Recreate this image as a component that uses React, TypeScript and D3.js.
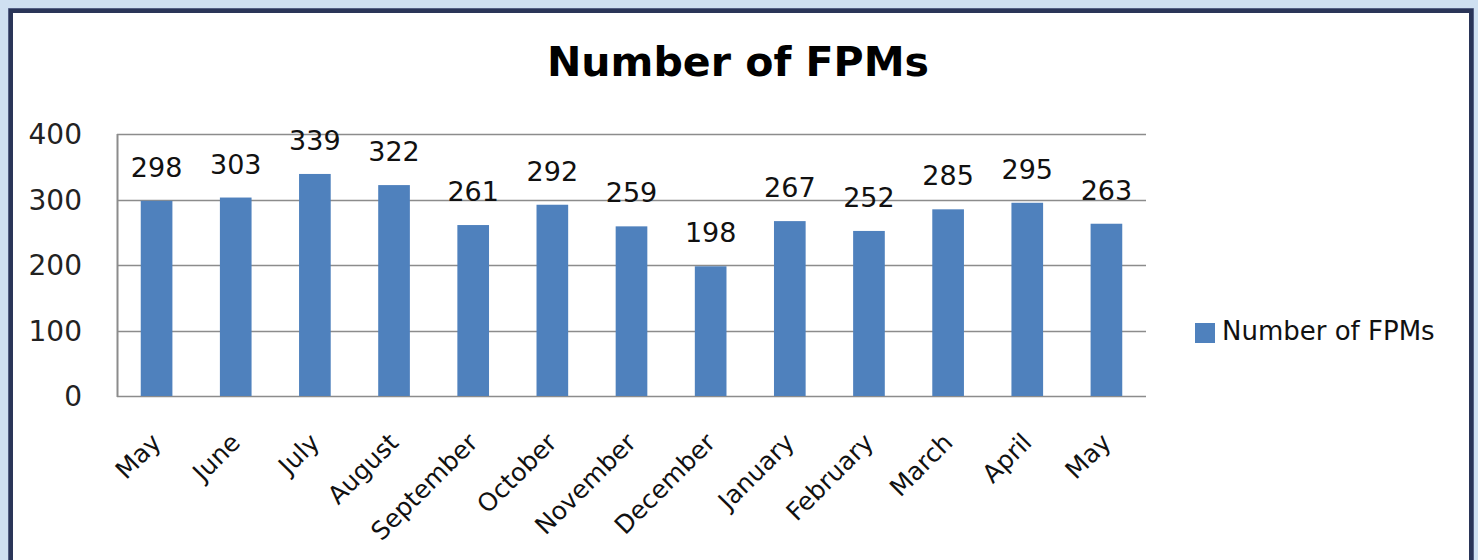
import React, { useRef, useEffect } from 'react';
import * as d3 from 'd3';

const months = [
  'May', 'June', 'July', 'August', 'September', 'October', 'November',
  'December', 'January', 'February', 'March', 'April', 'May',
];
const fpmCounts = [298, 303, 339, 322, 261, 292, 259, 198, 267, 252, 285, 295, 263];
const yTicks = [0, 100, 200, 300, 400];
const chartTitle = 'Number of FPMs';
const seriesName = 'Number of FPMs';

const W = 1478;
const H = 560;
const FONT = '"DejaVu Sans", Verdana, sans-serif';

const FpmChart: React.FC = () => {
  const ref = useRef<SVGSVGElement | null>(null);

  useEffect(() => {
    if (!ref.current) return;
    const svg = d3.select(ref.current);
    svg.selectAll('*').remove();

    const margin = { top: 134, right: W - 1146, bottom: H - 396, left: 117 };

    // page background + dark frame
    svg.append('rect').attr('width', W).attr('height', H).attr('fill', '#cfe0f1');
    svg
      .append('rect')
      .attr('x', 8)
      .attr('y', 8)
      .attr('width', 1466)
      .attr('height', H)
      .attr('fill', '#7f8db0');
    svg
      .append('rect')
      .attr('x', 8.5)
      .attr('y', 8.5)
      .attr('width', 1465)
      .attr('height', H)
      .attr('fill', '#2a3558');
    svg
      .append('rect')
      .attr('x', 13)
      .attr('y', 13)
      .attr('width', 1456)
      .attr('height', H)
      .attr('fill', '#ffffff');

    // title
    svg
      .append('text')
      .attr('x', 738)
      .attr('y', 76)
      .attr('text-anchor', 'middle')
      .attr('font-family', FONT)
      .attr('font-weight', 'bold')
      .attr('font-size', 41)
      .attr('textLength', 382)
      .attr('lengthAdjust', 'spacingAndGlyphs')
      .attr('fill', '#000')
      .text(chartTitle);

    const x = d3
      .scaleBand<number>()
      .domain(d3.range(months.length))
      .range([margin.left, W - margin.right])
      .paddingInner(0.6)
      .paddingOuter(0.3);
    const y = d3
      .scaleLinear()
      .domain([0, 400])
      .range([H - margin.bottom, margin.top]);

    // gridlines
    svg
      .append('g')
      .selectAll('line')
      .data(yTicks)
      .join('line')
      .attr('x1', margin.left)
      .attr('x2', W - margin.right)
      .attr('y1', (d) => Math.round(y(d)) + 0.5)
      .attr('y2', (d) => Math.round(y(d)) + 0.5)
      .attr('stroke', '#8c8c8c')
      .attr('stroke-width', 1.5);

    // left axis line
    svg
      .append('line')
      .attr('x1', margin.left + 0.5)
      .attr('x2', margin.left + 0.5)
      .attr('y1', y(400))
      .attr('y2', y(0) + 1)
      .attr('stroke', '#8c8c8c')
      .attr('stroke-width', 2);

    // y tick labels
    svg
      .append('g')
      .selectAll('text')
      .data(yTicks)
      .join('text')
      .attr('x', 82)
      .attr('y', (d) => y(d) + 10)
      .attr('text-anchor', 'end')
      .attr('font-family', FONT)
      .attr('font-size', 28)
      .attr('fill', '#222')
      .text((d) => d);

    // bars
    svg
      .append('g')
      .selectAll('rect')
      .data(fpmCounts)
      .join('rect')
      .attr('x', (_, i) => x(i)!)
      .attr('y', (d) => y(d))
      .attr('width', x.bandwidth())
      .attr('height', (d) => y(0) - y(d))
      .attr('fill', '#4f81bd');

    // value labels
    svg
      .append('g')
      .selectAll('text')
      .data(fpmCounts)
      .join('text')
      .attr('x', (_, i) => x(i)! + x.bandwidth() / 2)
      .attr('y', (d) => y(d) - 24)
      .attr('text-anchor', 'middle')
      .attr('font-family', FONT)
      .attr('font-size', 27)
      .attr('fill', '#111')
      .text((d) => d);

    // month labels, rotated
    svg
      .append('g')
      .selectAll('text')
      .data(months)
      .join('text')
      .attr('transform', (_, i) => {
        const cx = x(i)! + x.bandwidth() / 2 + 6;
        return `translate(${cx},${y(0) + 48}) rotate(-45)`;
      })
      .attr('text-anchor', 'end')
      .attr('font-family', FONT)
      .attr('font-size', 25)
      .attr('fill', '#111')
      .text((d) => d);

    // legend
    const legend = svg.append('g').attr('transform', 'translate(1195,323)');
    legend
      .append('rect')
      .attr('width', 20)
      .attr('height', 20)
      .attr('fill', '#4f81bd');
    legend
      .append('text')
      .attr('x', 27)
      .attr('y', 17)
      .attr('font-family', FONT)
      .attr('font-size', 26)
      .attr('fill', '#111')
      .text(seriesName);
  }, []);

  return (
    <svg
      ref={ref}
      width={W}
      height={H}
      style={{ position: 'absolute', left: 0, top: 0, display: 'block' }}
    />
  );
};

export default function App() {
  return <FpmChart />;
}
